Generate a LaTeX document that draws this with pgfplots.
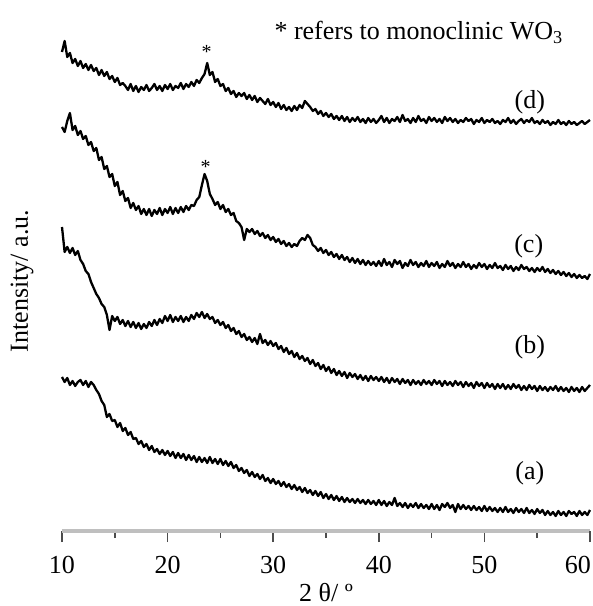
\documentclass[border=0pt]{standalone}
\usepackage{fontspec}
\setmainfont{Liberation Serif}
\usepackage{pgfplots}
\pgfplotsset{compat=1.18}

\begin{document}
\begin{tikzpicture}
\begin{axis}[
    name=ax,
    scale only axis,
    width=264bp, height=255.5bp,
    xmin=10, xmax=60, ymin=0, ymax=511,
    axis x line*=bottom,
    axis y line=none,
    x axis line style={draw=gray!50, line width=1.6bp},
    xtick={10,20,...,50},
    extra x ticks={60},
    extra x tick style={xticklabel style={anchor=north east, xshift=4bp}},
    minor xtick={15,25,...,55},
    tick align=outside,
    major tick length=5.5bp,
    minor tick length=3.5bp,
    every tick/.style={draw=black!70, line width=0.8bp},
    ticklabel style={font=\fontsize{13bp}{15bp}\selectfont},
    xticklabel style={yshift=-3.5bp},
    /pgf/number format/assume math mode=true,
    clip=false,
    every axis plot post/.append style={black, line width=1.15bp, line join=round, mark=none},
]
% (d)
\addplot coordinates {
(10.00,479)(10.25,490)(10.50,474)(10.75,478)(11.00,468)(11.25,472)(11.50,465)(11.75,470)
(12.00,463)(12.25,467)(12.50,461)(12.75,466)(13.00,460)(13.25,463)(13.50,456)(13.75,461)
(14.00,455)(14.25,459)(14.50,452)(14.75,455)(15.00,449)(15.25,453)(15.50,446)(15.75,448)
(16.00,445)(16.25,441)(16.50,447)(16.75,440)(17.00,445)(17.25,439)(17.50,444)(17.75,441)
(18.00,446)(18.25,440)(18.50,443)(18.75,447)(19.00,441)(19.25,445)(19.50,440)(19.75,446)
(20.00,442)(20.25,447)(20.50,441)(20.75,445)(21.00,443)(21.25,448)(21.50,442)(21.75,447)
(22.00,444)(22.25,449)(22.50,445)(22.75,451)(23.00,448)(23.25,453)(23.50,457)(23.75,468)
(24.00,456)(24.25,459)(24.50,449)(24.75,452)(25.00,445)(25.25,447)(25.50,440)(25.75,443)
(26.00,437)(26.25,440)(26.50,434)(26.75,438)(27.00,435)(27.25,438)(27.50,432)(27.75,436)
(28.00,431)(28.25,435)(28.50,429)(28.75,433)(29.00,430)(29.25,427)(29.50,432)(29.75,426)
(30.00,429)(30.25,424)(30.50,428)(30.75,422)(31.00,426)(31.25,421)(31.50,424)(31.75,420)
(32.00,425)(32.25,421)(32.50,426)(32.75,423)(33.00,430)(33.25,427)(33.50,424)(33.75,420)
(34.00,422)(34.25,417)(34.50,420)(34.75,415)(35.00,418)(35.25,414)(35.50,417)(35.75,412)
(36.00,415)(36.25,411)(36.50,415)(36.75,410)(37.00,414)(37.25,409)(37.50,413)(37.75,410)
(38.00,414)(38.25,409)(38.50,412)(38.75,408)(39.00,413)(39.25,409)(39.50,412)(39.75,408)
(40.00,411)(40.25,415)(40.50,409)(40.75,413)(41.00,408)(41.25,412)(41.50,410)(41.75,414)
(42.00,409)(42.25,416)(42.50,410)(42.75,412)(43.00,408)(43.25,413)(43.50,409)(43.75,415)
(44.00,410)(44.25,412)(44.50,408)(44.75,414)(45.00,410)(45.25,413)(45.50,409)(45.75,412)
(46.00,408)(46.25,414)(46.50,410)(46.75,413)(47.00,409)(47.25,412)(47.50,408)(47.75,411)
(48.00,409)(48.25,413)(48.50,410)(48.75,412)(49.00,407)(49.25,411)(49.50,409)(49.75,413)
(50.00,408)(50.25,411)(50.50,409)(50.75,412)(51.00,408)(51.25,410)(51.50,407)(51.75,411)
(52.00,409)(52.25,413)(52.50,408)(52.75,411)(53.00,407)(53.25,410)(53.50,412)(53.75,408)
(54.00,411)(54.25,409)(54.50,413)(54.75,408)(55.00,410)(55.25,407)(55.50,411)(55.75,408)
(56.00,410)(56.25,406)(56.50,409)(56.75,407)(57.00,411)(57.25,407)(57.50,409)(57.75,406)
(58.00,410)(58.25,407)(58.50,409)(58.75,406)(59.00,408)(59.25,410)(59.50,407)(59.75,409)
(60.00,411)
};
% (c)
\addplot coordinates {
(10.00,404)(10.25,399)(10.50,410)(10.75,418)(11.00,401)(11.25,405)(11.50,396)(11.75,400)
(12.00,392)(12.25,395)(12.50,386)(12.75,389)(13.00,380)(13.25,383)(13.50,371)(13.75,374)
(14.00,362)(14.25,365)(14.50,354)(14.75,357)(15.00,345)(15.25,349)(15.50,336)(15.75,340)
(16.00,330)(16.25,333)(16.50,323)(16.75,328)(17.00,321)(17.25,325)(17.50,317)(17.75,322)
(18.00,316)(18.25,322)(18.50,315)(18.75,321)(19.00,317)(19.25,323)(19.50,316)(19.75,322)
(20.00,318)(20.25,324)(20.50,317)(20.75,323)(21.00,318)(21.25,324)(21.50,319)(21.75,325)
(22.00,321)(22.25,326)(22.50,325)(22.75,331)(23.00,334)(23.25,346)(23.50,357)(23.75,350)
(24.00,337)(24.25,332)(24.50,326)(24.75,329)(25.00,322)(25.25,326)(25.50,319)(25.75,322)
(26.00,316)(26.25,318)(26.50,310)(26.75,308)(27.00,304)(27.25,291)(27.50,302)(27.75,299)
(28.00,302)(28.25,297)(28.50,300)(28.75,295)(29.00,298)(29.25,293)(29.50,296)(29.75,291)
(30.00,294)(30.25,289)(30.50,292)(30.75,287)(31.00,290)(31.25,285)(31.50,288)(31.75,284)
(32.00,287)(32.25,285)(32.50,290)(32.75,293)(33.00,291)(33.25,296)(33.50,293)(33.75,286)
(34.00,284)(34.25,280)(34.50,283)(34.75,278)(35.00,281)(35.25,276)(35.50,279)(35.75,274)
(36.00,277)(36.25,272)(36.50,276)(36.75,271)(37.00,274)(37.25,269)(37.50,273)(37.75,268)
(38.00,272)(38.25,267)(38.50,271)(38.75,266)(39.00,270)(39.25,266)(39.50,269)(39.75,265)
(40.00,270)(40.25,265)(40.50,272)(40.75,266)(41.00,269)(41.25,264)(41.50,271)(41.75,267)
(42.00,270)(42.25,263)(42.50,268)(42.75,265)(43.00,271)(43.25,266)(43.50,269)(43.75,264)
(44.00,268)(44.25,265)(44.50,270)(44.75,264)(45.00,268)(45.25,265)(45.50,269)(45.75,263)
(46.00,267)(46.25,264)(46.50,270)(46.75,265)(47.00,268)(47.25,263)(47.50,267)(47.75,264)
(48.00,269)(48.25,264)(48.50,267)(48.75,262)(49.00,266)(49.25,263)(49.50,268)(49.75,264)
(50.00,267)(50.25,262)(50.50,266)(50.75,263)(51.00,268)(51.25,263)(51.50,265)(51.75,261)
(52.00,266)(52.25,262)(52.50,265)(52.75,260)(53.00,264)(53.25,261)(53.50,266)(53.75,262)
(54.00,264)(54.25,260)(54.50,263)(54.75,259)(55.00,263)(55.25,260)(55.50,264)(55.75,259)
(56.00,262)(56.25,258)(56.50,261)(56.75,257)(57.00,260)(57.25,256)(57.50,259)(57.75,255)
(58.00,258)(58.25,254)(58.50,257)(58.75,253)(59.00,256)(59.25,253)(59.50,255)(59.75,252)
(60.00,257)
};
% (b)
\addplot coordinates {
(10.00,304)(10.25,279)(10.50,284)(10.75,278)(11.00,283)(11.25,276)(11.50,280)(11.75,271)
(12.00,267)(12.25,260)(12.50,257)(12.75,249)(13.00,243)(13.25,237)(13.50,233)(13.75,227)
(14.00,224)(14.25,216)(14.50,201)(14.75,215)(15.00,210)(15.25,214)(15.50,207)(15.75,211)
(16.00,205)(16.25,210)(16.50,204)(16.75,209)(17.00,203)(17.25,208)(17.50,202)(17.75,207)
(18.00,203)(18.25,209)(18.50,205)(18.75,211)(19.00,206)(19.25,212)(19.50,208)(19.75,215)
(20.00,210)(20.25,216)(20.50,209)(20.75,214)(21.00,210)(21.25,215)(21.50,209)(21.75,214)
(22.00,210)(22.25,216)(22.50,212)(22.75,218)(23.00,214)(23.25,219)(23.50,213)(23.75,217)
(24.00,212)(24.25,214)(24.50,208)(24.75,211)(25.00,206)(25.25,209)(25.50,203)(25.75,206)
(26.00,200)(26.25,203)(26.50,197)(26.75,200)(27.00,194)(27.25,197)(27.50,191)(27.75,194)
(28.00,189)(28.25,193)(28.50,187)(28.75,197)(29.00,188)(29.25,191)(29.50,186)(29.75,190)
(30.00,185)(30.25,188)(30.50,182)(30.75,185)(31.00,179)(31.25,183)(31.50,177)(31.75,180)
(32.00,174)(32.25,178)(32.50,172)(32.75,175)(33.00,170)(33.25,173)(33.50,167)(33.75,171)
(34.00,165)(34.25,168)(34.50,162)(34.75,166)(35.00,160)(35.25,164)(35.50,158)(35.75,162)
(36.00,156)(36.25,160)(36.50,155)(36.75,159)(37.00,153)(37.25,158)(37.50,154)(37.75,157)
(38.00,152)(38.25,156)(38.50,151)(38.75,155)(39.00,150)(39.25,155)(39.50,151)(39.75,154)
(40.00,150)(40.25,154)(40.50,149)(40.75,153)(41.00,148)(41.25,153)(41.50,149)(41.75,152)
(42.00,147)(42.25,152)(42.50,148)(42.75,151)(43.00,146)(43.25,151)(43.50,147)(43.75,150)
(44.00,146)(44.25,151)(44.50,147)(44.75,150)(45.00,146)(45.25,151)(45.50,147)(45.75,150)
(46.00,145)(46.25,150)(46.50,146)(46.75,149)(47.00,145)(47.25,150)(47.50,146)(47.75,149)
(48.00,144)(48.25,149)(48.50,145)(48.75,148)(49.00,143)(49.25,149)(49.50,145)(49.75,148)
(50.00,143)(50.25,148)(50.50,144)(50.75,147)(51.00,142)(51.25,147)(51.50,143)(51.75,147)
(52.00,142)(52.25,146)(52.50,142)(52.75,147)(53.00,143)(53.25,146)(53.50,141)(53.75,145)
(54.00,141)(54.25,146)(54.50,142)(54.75,145)(55.00,140)(55.25,145)(55.50,141)(55.75,144)
(56.00,140)(56.25,144)(56.50,141)(56.75,145)(57.00,140)(57.25,144)(57.50,140)(57.75,143)
(58.00,139)(58.25,144)(58.50,140)(58.75,143)(59.00,139)(59.25,144)(59.50,140)(59.75,143)
(60.00,146)
};
% (a)
\addplot coordinates {
(10.00,154)(10.25,149)(10.50,153)(10.75,146)(11.00,150)(11.25,145)(11.50,149)(11.75,151)
(12.00,146)(12.25,150)(12.50,144)(12.75,149)(13.00,146)(13.25,141)(13.50,137)(13.75,130)
(14.00,126)(14.25,114)(14.50,117)(14.75,110)(15.00,111)(15.25,104)(15.50,108)(15.75,100)
(16.00,103)(16.25,96)(16.50,99)(16.75,92)(17.00,93)(17.25,87)(17.50,90)(17.75,84)
(18.00,87)(18.25,81)(18.50,85)(18.75,79)(19.00,82)(19.25,77)(19.50,81)(19.75,76)
(20.00,80)(20.25,75)(20.50,79)(20.75,73)(21.00,78)(21.25,73)(21.50,77)(21.75,71)
(22.00,76)(22.25,71)(22.50,75)(22.75,69)(23.00,74)(23.25,69)(23.50,73)(23.75,68)
(24.00,74)(24.25,68)(24.50,72)(24.75,67)(25.00,72)(25.25,66)(25.50,70)(25.75,65)
(26.00,69)(26.25,63)(26.50,66)(26.75,60)(27.00,63)(27.25,58)(27.50,61)(27.75,55)
(28.00,59)(28.25,54)(28.50,57)(28.75,52)(29.00,56)(29.25,50)(29.50,53)(29.75,48)
(30.00,52)(30.25,47)(30.50,50)(30.75,45)(31.00,49)(31.25,44)(31.50,47)(31.75,42)
(32.00,46)(32.25,41)(32.50,44)(32.75,39)(33.00,43)(33.25,38)(33.50,41)(33.75,36)
(34.00,40)(34.25,35)(34.50,39)(34.75,33)(35.00,37)(35.25,32)(35.50,36)(35.75,31)
(36.00,35)(36.25,30)(36.50,34)(36.75,29)(37.00,33)(37.25,29)(37.50,32)(37.75,28)
(38.00,32)(38.25,28)(38.50,31)(38.75,27)(39.00,31)(39.25,27)(39.50,30)(39.75,26)
(40.00,31)(40.25,26)(40.50,30)(40.75,25)(41.00,29)(41.25,26)(41.50,33)(41.75,25)
(42.00,28)(42.25,24)(42.50,28)(42.75,23)(43.00,27)(43.25,24)(43.50,28)(43.75,23)
(44.00,27)(44.25,23)(44.50,26)(44.75,22)(45.00,27)(45.25,22)(45.50,26)(45.75,21)
(46.00,27)(46.25,24)(46.50,28)(46.75,23)(47.00,26)(47.25,19)(47.50,27)(47.75,22)
(48.00,26)(48.25,22)(48.50,25)(48.75,21)(49.00,25)(49.25,21)(49.50,24)(49.75,20)
(50.00,25)(50.25,20)(50.50,24)(50.75,20)(51.00,23)(51.25,19)(51.50,23)(51.75,19)
(52.00,24)(52.25,19)(52.50,22)(52.75,18)(53.00,23)(53.25,19)(53.50,22)(53.75,18)
(54.00,23)(54.25,18)(54.50,21)(54.75,17)(55.00,22)(55.25,18)(55.50,21)(55.75,16)
(56.00,20)(56.25,16)(56.50,19)(56.75,15)(57.00,20)(57.25,16)(57.50,19)(57.75,15)
(58.00,20)(58.25,17)(58.50,19)(58.75,15)(59.00,20)(59.25,16)(59.50,19)(59.75,16)
(60.00,21)
};
\begin{scope}[every node/.style={font=\fontsize{13bp}{15bp}\selectfont}]
\node at (axis cs:54.3,429) {(d)};
\node at (axis cs:54.2,285) {(c)};
\node at (axis cs:54.3,184) {(b)};
\node at (axis cs:54.3,58) {(a)};
\node at (rel axis cs:0.676,0.975) {* refers to monoclinic WO\textsubscript{3}};
\node[rotate=90] at (rel axis cs:-0.0758,0.489) {Intensity/ a.u.};
\node at (rel axis cs:0.5,-0.12) {2 θ/ º};
\end{scope}
\node[font=\fontsize{10bp}{12bp}\selectfont] at (axis cs:23.7,479) {*};
\node[font=\fontsize{10bp}{12bp}\selectfont] at (axis cs:23.6,364) {*};
\end{axis}
\pgfresetboundingbox
\useasboundingbox ([shift={(-31bp,-37.5bp)}]ax.south west) rectangle ([shift={(1.5bp,10bp)}]ax.north east);
\end{tikzpicture}
\end{document}
